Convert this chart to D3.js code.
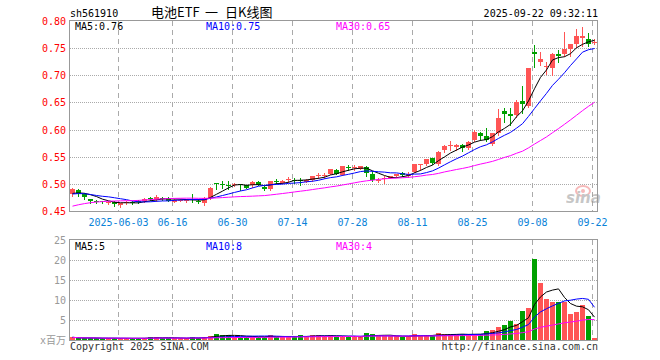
<!DOCTYPE html>
<html>
<head>
<meta charset="utf-8">
<script src="https://cdn.jsdelivr.net/npm/d3@7"></script>
<style>
  body { margin: 0; background: #fff; }
  svg text { font-family: "DejaVu Sans Mono", monospace; font-size: 10px; }
</style>
</head>
<body>
<div id="kline"></div>
<script>
// trading days shown
const dates = [
  "2025-05-21","2025-05-22","2025-05-23","2025-05-26","2025-05-27","2025-05-28","2025-05-29","2025-05-30",
  "2025-06-03","2025-06-04","2025-06-05","2025-06-06","2025-06-09","2025-06-10","2025-06-11","2025-06-12","2025-06-13",
  "2025-06-16","2025-06-17","2025-06-18","2025-06-19","2025-06-20","2025-06-23","2025-06-24","2025-06-25","2025-06-26","2025-06-27",
  "2025-06-30","2025-07-01","2025-07-02","2025-07-03","2025-07-04","2025-07-07","2025-07-08","2025-07-09","2025-07-10","2025-07-11",
  "2025-07-14","2025-07-15","2025-07-16","2025-07-17","2025-07-18","2025-07-21","2025-07-22","2025-07-23","2025-07-24","2025-07-25",
  "2025-07-28","2025-07-29","2025-07-30","2025-07-31","2025-08-01","2025-08-04","2025-08-05","2025-08-06","2025-08-07","2025-08-08",
  "2025-08-11","2025-08-12","2025-08-13","2025-08-14","2025-08-15","2025-08-18","2025-08-19","2025-08-20","2025-08-21","2025-08-22",
  "2025-08-25","2025-08-26","2025-08-27","2025-08-28","2025-08-29","2025-09-01","2025-09-02","2025-09-03","2025-09-04","2025-09-05",
  "2025-09-08","2025-09-09","2025-09-10","2025-09-11","2025-09-12","2025-09-15","2025-09-16","2025-09-17","2025-09-18","2025-09-19",
  "2025-09-22"
];

const open = [
  0.482,0.488,0.481,0.473,0.468,0.468,0.464,0.467,
  0.461,0.464,0.467,0.469,0.468,0.474,0.470,0.474,0.474,
  0.467,0.469,0.468,0.473,0.469,0.465,0.474,0.501,0.500,0.498,
  0.497,0.499,0.497,0.497,0.504,0.495,0.490,0.506,0.502,0.508,
  0.508,0.507,0.504,0.507,0.515,0.516,0.519,0.526,0.517,0.531,
  0.530,0.528,0.531,0.519,0.507,0.509,0.511,0.515,0.520,0.515,
  0.522,0.535,0.536,0.547,0.536,0.562,0.569,0.568,0.571,0.566,
  0.580,0.593,0.588,0.573,0.593,0.634,0.629,0.627,0.652,0.643,
  0.743,0.724,0.717,0.713,0.740,0.740,0.749,0.758,0.769,0.767,
  0.759
];
const high = [
  0.493,0.490,0.484,0.473,0.470,0.469,0.468,0.468,
  0.465,0.468,0.468,0.471,0.474,0.476,0.479,0.475,0.475,
  0.472,0.472,0.472,0.482,0.473,0.475,0.494,0.501,0.505,0.505,
  0.502,0.499,0.498,0.505,0.505,0.496,0.506,0.509,0.507,0.512,
  0.510,0.511,0.509,0.515,0.520,0.520,0.528,0.528,0.533,0.534,
  0.534,0.533,0.532,0.523,0.511,0.515,0.515,0.519,0.522,0.522,
  0.537,0.536,0.546,0.548,0.560,0.571,0.579,0.573,0.574,0.579,
  0.599,0.596,0.602,0.594,0.637,0.639,0.639,0.654,0.680,0.714,
  0.756,0.743,0.725,0.741,0.747,0.780,0.758,0.786,0.789,0.778,
  0.766
];
const low = [
  0.478,0.478,0.472,0.465,0.464,0.464,0.463,0.459,
  0.458,0.463,0.463,0.465,0.467,0.470,0.469,0.471,0.468,
  0.466,0.468,0.467,0.466,0.464,0.461,0.473,0.491,0.493,0.491,
  0.496,0.489,0.492,0.494,0.497,0.488,0.488,0.502,0.501,0.504,
  0.502,0.497,0.503,0.506,0.511,0.511,0.518,0.518,0.516,0.525,
  0.525,0.527,0.514,0.505,0.504,0.501,0.510,0.513,0.515,0.513,
  0.521,0.526,0.535,0.537,0.535,0.559,0.563,0.563,0.560,0.565,
  0.579,0.580,0.579,0.572,0.590,0.614,0.608,0.624,0.630,0.642,
  0.715,0.719,0.703,0.701,0.724,0.736,0.736,0.753,0.754,0.754,
  0.757
];
const close = [
  0.490,0.482,0.475,0.469,0.467,0.466,0.467,0.462,
  0.464,0.467,0.465,0.467,0.473,0.472,0.475,0.473,0.469,
  0.471,0.471,0.471,0.470,0.467,0.474,0.493,0.500,0.499,0.497,
  0.500,0.498,0.493,0.504,0.498,0.490,0.505,0.505,0.506,0.509,
  0.507,0.506,0.508,0.514,0.516,0.517,0.527,0.519,0.532,0.530,
  0.531,0.532,0.520,0.507,0.508,0.510,0.514,0.518,0.516,0.518,
  0.536,0.536,0.545,0.538,0.559,0.570,0.572,0.572,0.566,0.578,
  0.596,0.588,0.580,0.593,0.622,0.628,0.625,0.650,0.648,0.713,
  0.740,0.730,0.718,0.740,0.735,0.748,0.758,0.772,0.772,0.758,
  0.762
];
// volume, millions
const volume = [
  0.67,0.45,0.45,0.5,0.4,0.4,0.4,0.45,
  0.4,0.4,0.4,0.4,0.5,0.75,0.75,0.45,0.45,
  0.4,0.4,0.4,0.75,0.5,0.75,1.1,1.5,1.2,1.2,
  0.8,0.8,0.8,0.9,0.8,0.8,1.2,0.8,0.8,0.8,
  0.8,1.2,0.8,1.2,1.2,0.9,1.2,0.8,0.9,0.8,
  0.8,0.8,1.7,1.4,1.0,1.0,0.9,0.9,0.8,0.9,
  1.4,1.1,1.2,1.1,1.7,1.4,1.4,1.4,1.4,1.4,
  1.6,1.4,2.2,2.5,3.2,3.7,4.7,4.1,7.2,8.1,
  20.3,14.2,10.2,9.6,9.6,9.6,6.6,6.9,8.8,5.9,
  0.4
];
// closes before the window, estimated from where the MA lines start
const priorClose = [
  0.405,0.412,0.418,0.430,0.441,0.446,0.452,0.455,0.458,0.462,
  0.455,0.450,0.447,0.452,0.458,0.455,0.460,0.463,0.466,0.470,
  0.474,0.478,0.483,0.485,0.481,0.477,0.479,0.482,0.484
];

const priceTicks = [0.45, 0.50, 0.55, 0.60, 0.65, 0.70, 0.75, 0.80];
const volumeTicks = [5, 10, 15, 20, 25];
const dateTicks = ["2025-06-03","2025-06-16","2025-06-30","2025-07-14","2025-07-28","2025-08-11","2025-08-25","2025-09-08","2025-09-22"];
const dateTickLabels = ["2025-06-03","06-16","06-30","07-14","07-28","08-11","08-25","09-08","09-22"];
const maPeriods = [5, 10, 30];
const maColors = ["#000000", "#0000ff", "#ff00ff"];
const priceMaText = ["0.76", "0.75", "0.65"];
const volumeMaText = ["5", "8", "4"];
const titleParts = ["电池ETF", "一", "日K线图"];

const W = 660, H = 360;
const upColor = "#ff5555", downColor = "#00a000";
const gridColor = "#aaaaaa";

const svg = d3.select("#kline")
  .append("svg")
  .attr("width", W)
  .attr("height", H);

const x = d3.scaleBand().domain(dates).range([70, 598]);
const y = d3.scaleLinear().domain([0.45, 0.80]).range([211, 21]);
const yv = d3.scaleLinear().domain([0, 25]).range([340, 240]);

const idx = d3.range(dates.length);
const isUp = i => close[i] >= open[i];

// moving averages
const allClose = priorClose.concat(close);
const off = priorClose.length;
function priceMA(n) {
  return idx.map(i => d3.mean(allClose.slice(Math.max(0, i + off - n + 1), i + off + 1)));
}
function volumeMA(n) {
  return idx.map(i => d3.mean(volume.slice(Math.max(0, i - n + 1), i + 1)));
}

// header
svg.append("text").attr("x", 70).attr("y", 17).text("sh561910");
const titleX = [151, 205, 225];
titleParts.forEach((t, k) => {
  svg.append("text").attr("x", titleX[k]).attr("y", 17)
    .style("font-family", "'Noto Sans CJK SC', sans-serif")
    .style("font-size", "13px")
    .text(t);
});
svg.append("text").attr("x", 598).attr("y", 17)
  .attr("text-anchor", "end")
  .text("2025-09-22 09:32:11");

// grids
function vGrid(y0, y1) {
  svg.append("g")
    .selectAll("line")
    .data(dateTicks)
    .join("line")
    .attr("x1", d => Math.round(x(d)) + 0.5)
    .attr("x2", d => Math.round(x(d)) + 0.5)
    .attr("y1", y0).attr("y2", y1)
    .attr("stroke", gridColor)
    .attr("stroke-dasharray", "5,4");
}
vGrid(21, 211);
vGrid(240, 340);

svg.append("g")
  .selectAll("line")
  .data(priceTicks.slice(1, -1))
  .join("line")
  .attr("x1", 70).attr("x2", 598)
  .attr("y1", d => Math.round(y(d)) + 0.5)
  .attr("y2", d => Math.round(y(d)) + 0.5)
  .attr("stroke", gridColor)
  .attr("stroke-dasharray", "1,1");

svg.append("g")
  .selectAll("line")
  .data(volumeTicks.slice(0, -1))
  .join("line")
  .attr("x1", 70).attr("x2", 598)
  .attr("y1", d => Math.round(yv(d)) + 0.5)
  .attr("y2", d => Math.round(yv(d)) + 0.5)
  .attr("stroke", gridColor)
  .attr("stroke-dasharray", "1,1");

// sina watermark
const mark = svg.append("g").attr("opacity", 0.55);
mark.append("ellipse").attr("cx", 583).attr("cy", 191).attr("rx", 7).attr("ry", 5)
  .attr("fill", "none").attr("stroke", "#f08080").attr("stroke-width", 2);
mark.append("circle").attr("cx", 583).attr("cy", 191).attr("r", 2).attr("fill", "#f08080");
mark.append("text").attr("x", 566).attr("y", 203)
  .style("font-family", "'DejaVu Sans', sans-serif")
  .style("font-size", "15px")
  .style("font-weight", "bold")
  .style("font-style", "italic")
  .attr("fill", "#999")
  .text("sina");

// candles
const candles = svg.append("g");
candles.selectAll("line")
  .data(idx)
  .join("line")
  .attr("x1", i => x(dates[i]) + 2.5)
  .attr("x2", i => x(dates[i]) + 2.5)
  .attr("y1", i => Math.round(y(high[i])))
  .attr("y2", i => Math.round(y(low[i])) + 1)
  .attr("stroke", i => isUp(i) ? upColor : downColor);
candles.selectAll("rect")
  .data(idx)
  .join("rect")
  .attr("x", i => x(dates[i]))
  .attr("width", 5)
  .attr("y", i => Math.round(y(Math.max(open[i], close[i]))))
  .attr("height", i => Math.max(1, Math.round(y(Math.min(open[i], close[i]))) - Math.round(y(Math.max(open[i], close[i])))))
  .attr("fill", i => isUp(i) ? upColor : downColor);

// volume bars
svg.append("g")
  .selectAll("rect")
  .data(idx)
  .join("rect")
  .attr("x", i => x(dates[i]))
  .attr("width", 5)
  .attr("y", i => Math.round(yv(volume[i])))
  .attr("height", i => 340 - Math.round(yv(volume[i])))
  .attr("fill", i => isUp(i) ? upColor : downColor);

// MA lines
maPeriods.forEach((n, k) => {
  const pm = priceMA(n);
  svg.append("path")
    .datum(idx)
    .attr("fill", "none")
    .attr("stroke", maColors[k])
    .attr("stroke-width", 1)
    .attr("d", d3.line().x(i => x(dates[i]) + 2.5).y(i => y(pm[i])));
  const vm = volumeMA(n);
  svg.append("path")
    .datum(idx)
    .attr("fill", "none")
    .attr("stroke", maColors[k])
    .attr("stroke-width", 1)
    .attr("d", d3.line().x(i => x(dates[i]) + 2.5).y(i => yv(vm[i])));
});

// frames
svg.append("rect").attr("x", 69.5).attr("y", 20.5).attr("width", 528).attr("height", 191)
  .attr("fill", "none").attr("stroke", "#999");
svg.append("rect").attr("x", 69.5).attr("y", 239.5).attr("width", 528).attr("height", 101)
  .attr("fill", "none").attr("stroke", "#999");

// axis labels
svg.append("g")
  .selectAll("text")
  .data(priceTicks)
  .join("text")
  .attr("x", 66)
  .attr("y", d => y(d) + 4)
  .attr("text-anchor", "end")
  .attr("fill", "#ff0000")
  .text(d => d.toFixed(2));

svg.append("g")
  .selectAll("text")
  .data(volumeTicks)
  .join("text")
  .attr("x", 66)
  .attr("y", d => yv(d) + 4)
  .attr("text-anchor", "end")
  .attr("fill", "#999")
  .text(d => d);

svg.append("text").attr("x", 40).attr("y", 344)
  .attr("fill", "#999")
  .style("font-family", "'DejaVu Sans Mono', 'Noto Sans CJK SC', monospace")
  .text("x百万");

svg.append("g")
  .selectAll("text")
  .data(dateTicks)
  .join("text")
  .attr("x", d => x(d) + 0.5)
  .attr("y", 226)
  .attr("text-anchor", "middle")
  .attr("fill", "#0a82d8")
  .text((d, i) => dateTickLabels[i]);

// MA legends
const legendX = [75, 206, 336];
maPeriods.forEach((n, k) => {
  svg.append("text").attr("x", legendX[k]).attr("y", 30)
    .attr("fill", maColors[k])
    .text("MA" + n + ":" + priceMaText[k]);
  svg.append("text").attr("x", legendX[k]).attr("y", 250)
    .attr("fill", maColors[k])
    .text("MA" + n + ":" + volumeMaText[k]);
});

// footer
svg.append("text").attr("x", 70).attr("y", 350).attr("fill", "#333").text("Copyright 2025 SINA.COM");
svg.append("text").attr("x", 598).attr("y", 350).attr("text-anchor", "end").attr("fill", "#333").text("http://finance.sina.com.cn");
</script>
</body>
</html>
